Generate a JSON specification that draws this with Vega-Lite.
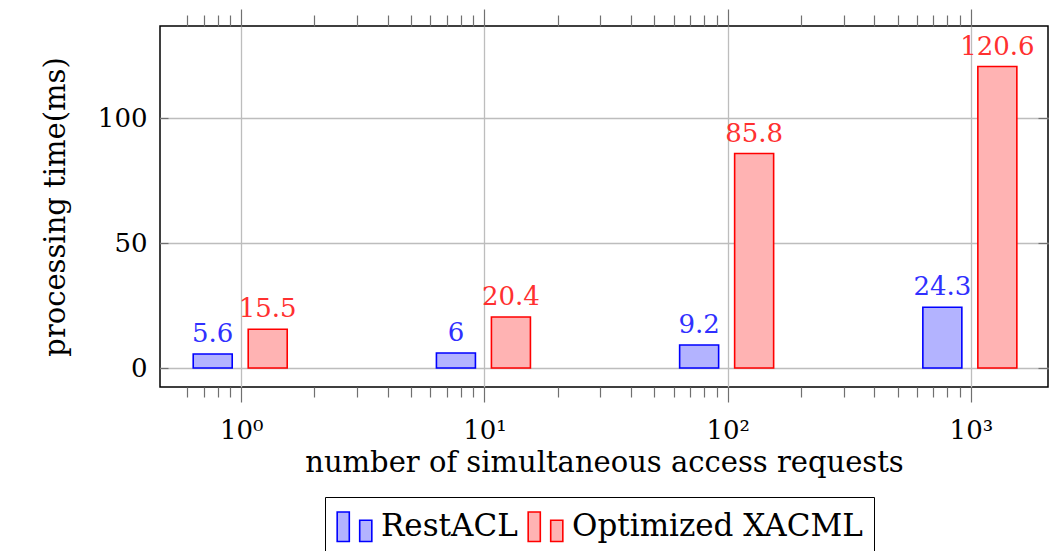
{
  "$schema": "https://vega.github.io/schema/vega-lite/v6.json",
  "width": 888,
  "height": 361,
  "autosize": {"type": "none"},
  "padding": {"left": 160, "top": 26, "right": 2, "bottom": 164},
  "background": "white",
  "config": {
    "font": "DejaVu Serif",
    "text": {"font": "DejaVu Serif"},
    "view": {"stroke": "black", "strokeWidth": 1.5},
    "axis": {"domain": false, "tickColor": "#707070", "tickWidth": 1.2, "labelFont": "DejaVu Serif", "titleFont": "DejaVu Serif", "labelColor": "black", "titleColor": "black", "titleFontWeight": "normal", "gridColor": "#bdbdbd", "gridWidth": 1.3},
    "legend": {"labelFont": "DejaVu Serif"}
  },
  "data": {
    "values": [
      {"n": 1, "s": "RestACL", "t": 5.6},
      {"n": 10, "s": "RestACL", "t": 6},
      {"n": 100, "s": "RestACL", "t": 9.2},
      {"n": 1000, "s": "RestACL", "t": 24.3},
      {"n": 1, "s": "Optimized XACML", "t": 15.5},
      {"n": 10, "s": "Optimized XACML", "t": 20.4},
      {"n": 100, "s": "Optimized XACML", "t": 85.8},
      {"n": 1000, "s": "Optimized XACML", "t": 120.6}
    ]
  },
  "resolve": {"axis": {"x": "independent", "y": "independent"}},
  "layer": [
    {
      "transform": [{"filter": "datum.s == 'RestACL'"}],
      "mark": {"type": "bar", "width": 39, "xOffset": -28.5, "strokeWidth": 1.6},
      "encoding": {
        "x": {"field": "n", "type": "quantitative",
          "scale": {"type": "log", "domain": [0.486, 1980], "nice": false},
          "axis": {"orient": "bottom", "values": [1, 10, 100, 1000], "labelExpr": "datum.value == 1 ? '10⁰' : datum.value == 10 ? '10¹' : datum.value == 100 ? '10²' : '10³'", "labelFontSize": 26, "tickSize": 15, "labelPadding": 15, "grid": true, "title": "number of simultaneous access requests", "titleFontSize": 29, "titlePadding": 5}},
        "y": {"field": "t", "type": "quantitative",
          "scale": {"domain": [-7.6, 136.8], "nice": false, "zero": false},
          "axis": {"orient": "left", "values": [0, 50, 100], "tickSize": -8, "labelPadding": 21, "labelFontSize": 26, "grid": true, "title": "processing time(ms)", "titleFontSize": 29, "titlePadding": 27}},
        "fill": {"field": "s", "type": "nominal",
          "scale": {"domain": ["RestACL", "Optimized XACML"], "range": ["#b3b3ff", "#ffb3b3"]},
          "legend": {"orient": "none", "legendX": 165, "legendY": 471, "direction": "horizontal", "title": null, "labelFontSize": 31, "labelLimit": 0, "symbolType": "M-1,-0.85H-0.3V0.85H-1Z M0.3,-0.38H1V0.85H0.3Z", "symbolSize": 1200, "symbolStrokeWidth": 1.6, "strokeColor": "black", "padding": 11, "fillColor": "white", "columnPadding": 6, "labelOffset": 8}},
        "stroke": {"field": "s", "type": "nominal",
          "scale": {"domain": ["RestACL", "Optimized XACML"], "range": ["#0000ff", "#ff0000"]},
          "legend": {"orient": "none", "legendX": 165, "legendY": 471, "direction": "horizontal", "title": null, "labelFontSize": 31, "labelLimit": 0, "symbolType": "M-1,-0.85H-0.3V0.85H-1Z M0.3,-0.38H1V0.85H0.3Z", "symbolSize": 1200, "symbolStrokeWidth": 1.6, "strokeColor": "black", "padding": 11, "fillColor": "white", "columnPadding": 6, "labelOffset": 8}}
      }
    },
    {
      "transform": [{"filter": "datum.s == 'Optimized XACML'"}],
      "mark": {"type": "bar", "width": 39, "xOffset": 26.5, "strokeWidth": 1.6},
      "encoding": {
        "x": {"field": "n", "type": "quantitative",
          "axis": {"orient": "top", "values": [1, 10, 100, 1000], "labels": false, "tickSize": 17, "grid": false, "title": null}},
        "y": {"field": "t", "type": "quantitative",
          "axis": {"orient": "right", "values": [0, 50, 100], "tickSize": -10, "labels": false, "grid": false, "title": null}},
        "fill": {"field": "s", "type": "nominal"},
        "stroke": {"field": "s", "type": "nominal"}
      }
    },
    {
      "transform": [{"filter": "datum.s == 'RestACL'"}],
      "mark": {"type": "text", "font": "DejaVu Serif", "xOffset": -28.5, "dy": -12, "baseline": "alphabetic", "fontSize": 26, "color": "#3030ff"},
      "encoding": {
        "x": {"field": "n", "type": "quantitative",
          "axis": {"orient": "bottom", "values": [0.6, 0.7, 0.8, 0.9, 2, 3, 4, 5, 6, 7, 8, 9, 20, 30, 40, 50, 60, 70, 80, 90, 200, 300, 400, 500, 600, 700, 800, 900], "labels": false, "tickSize": 10, "grid": false, "title": null}},
        "y": {"field": "t", "type": "quantitative", "axis": null},
        "text": {"field": "t", "type": "quantitative"}
      }
    },
    {
      "transform": [{"filter": "datum.s == 'Optimized XACML'"}],
      "mark": {"type": "text", "font": "DejaVu Serif", "xOffset": 26.5, "dy": -12, "baseline": "alphabetic", "fontSize": 26, "color": "#ff3030"},
      "encoding": {
        "x": {"field": "n", "type": "quantitative",
          "axis": {"orient": "top", "values": [0.6, 0.7, 0.8, 0.9, 2, 3, 4, 5, 6, 7, 8, 9, 20, 30, 40, 50, 60, 70, 80, 90, 200, 300, 400, 500, 600, 700, 800, 900], "labels": false, "tickSize": 11, "grid": false, "title": null}},
        "y": {"field": "t", "type": "quantitative", "axis": null},
        "text": {"field": "t", "type": "quantitative"}
      }
    }
  ]
}
